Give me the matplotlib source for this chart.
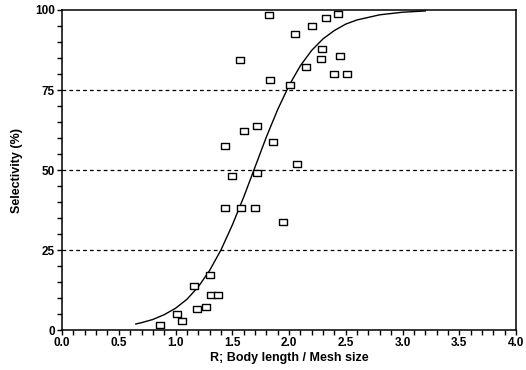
import numpy as np
import matplotlib
matplotlib.use("Agg")
import matplotlib.pyplot as plt
from matplotlib.ticker import MultipleLocator

plt.rcParams['font.family'] = ['Liberation Sans', 'DejaVu Sans']

# observed selectivity points
r_obs = [0.86, 1.01, 1.06, 1.16, 1.19, 1.27, 1.30, 1.31, 1.37, 1.44, 1.44, 1.50,
         1.57, 1.58, 1.60, 1.72, 1.72, 1.70, 1.82, 1.83, 1.86, 1.95, 2.01, 2.07,
         2.05, 2.15, 2.20, 2.28, 2.29, 2.33, 2.40, 2.43, 2.45, 2.51]
sel_obs = [1.6, 5.0, 2.8, 13.8, 6.6, 7.2, 17.2, 11.0, 11.0, 57.5, 38.2, 48.0,
           84.3, 38.2, 62.2, 63.8, 49.1, 38.2, 98.5, 78.1, 58.8, 33.8, 76.6, 51.9,
           92.5, 82.2, 95.0, 84.7, 87.8, 97.5, 80.0, 98.8, 85.6, 80.0]

# fitted curve
r_fit = [0.65, 0.7, 0.8, 0.9, 1.0, 1.1, 1.2, 1.3, 1.4, 1.5, 1.6, 1.7, 1.8, 1.9,
         2.0, 2.1, 2.2, 2.3, 2.4, 2.5, 2.6, 2.8, 3.0, 3.2]
sel_fit = [1.9, 2.3, 3.3, 4.8, 6.8, 9.6, 13.5, 18.6, 25.0, 32.8, 41.5, 50.9, 60.3, 68.9,
           76.4, 82.6, 87.4, 91.0, 93.6, 95.6, 96.9, 98.5, 99.3, 99.7]

ref_levels = [25, 50, 75]

fig = plt.figure(figsize=(5.26, 3.70), dpi=100)
ax = fig.add_axes([0.118, 0.108, 0.863, 0.865])

for lv in ref_levels:
    ax.axhline(lv, color='black', lw=0.9, ls=(0, (3, 2.5)), zorder=1)

ax.plot(r_fit, sel_fit, color='black', lw=1.0, zorder=2)

# slightly wide open rectangle marker
rect = [(-1.35, -1), (1.35, -1), (1.35, 1), (-1.35, 1), (-1.35, -1)]
ax.plot(r_obs, sel_obs, ls='none', marker=rect, markersize=6, mfc='white',
        mec='black', mew=1.0, zorder=3)

ax.set_xlim(0, 4.0)
ax.set_ylim(0, 100)
ax.xaxis.set_major_locator(MultipleLocator(0.5))
ax.xaxis.set_minor_locator(MultipleLocator(0.1))
ax.yaxis.set_major_locator(MultipleLocator(25))
ax.yaxis.set_minor_locator(MultipleLocator(5))
ax.xaxis.set_major_formatter(matplotlib.ticker.FormatStrFormatter('%.1f'))
ax.tick_params(which='both', direction='out', length=3.5, width=1.0, labelsize=8.5, pad=1.5)
for lab in ax.get_xticklabels() + ax.get_yticklabels():
    lab.set_fontweight('bold')
for sp in ax.spines.values():
    sp.set_linewidth(1.1)

ax.set_xlabel('R; Body length / Mesh size', fontsize=9, fontweight='bold', labelpad=2)
ax.set_ylabel('Selectivity (%)', fontsize=9, fontweight='bold', labelpad=9)

fig.savefig('out.png', dpi=100)
